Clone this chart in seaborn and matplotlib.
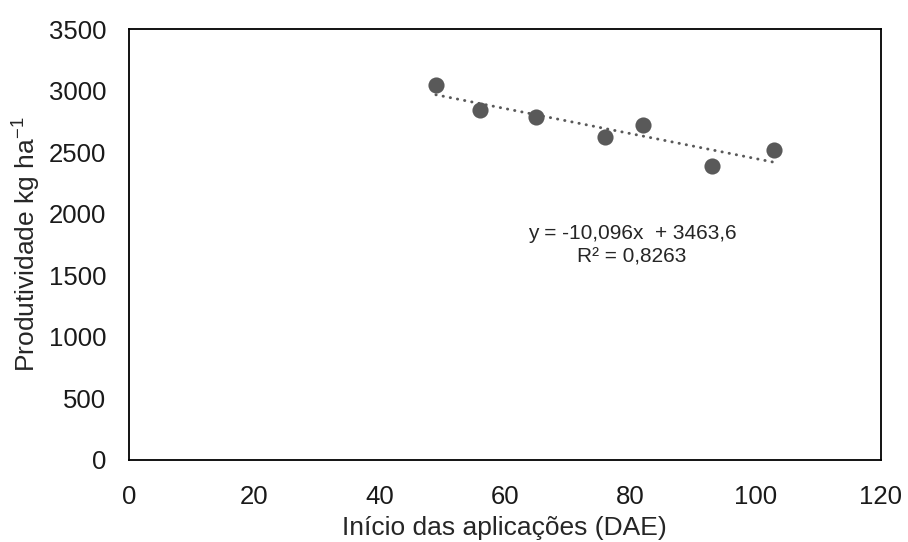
import numpy as np
import pandas as pd
import matplotlib
matplotlib.use("Agg")
import matplotlib.pyplot as plt
import seaborn as sns

# data
dae = [49, 56, 65, 76, 82, 93, 103]
produtividade = [3050, 2845, 2785, 2625, 2720, 2385, 2520]
x_ticks = [0, 20, 40, 60, 80, 100, 120]
y_ticks = [0, 500, 1000, 1500, 2000, 2500, 3000, 3500]
eq_text = "y = -10,096x  + 3463,6\nR² = 0,8263"

df = pd.DataFrame({"DAE": dae, "Prod": produtividade})

sns.set_theme(style="white")
plt.rcParams["font.family"] = ["Liberation Sans", "DejaVu Sans"]
plt.rcParams["mathtext.fontset"] = "custom"
plt.rcParams["mathtext.rm"] = "Liberation Sans"

fig = plt.figure(figsize=(9.08, 5.42), dpi=100)
ax = fig.add_axes([0.142, 0.152, 0.828, 0.794])

# linear trend line
coef = np.polyfit(df["DAE"], df["Prod"], 1)
xs = np.array([df["DAE"].min(), df["DAE"].max()])
ax.plot(xs, np.polyval(coef, xs), color="#595959", linestyle=(0, (0.1, 2.4)),
        linewidth=2.1, dash_capstyle="round", zorder=2)

sns.scatterplot(data=df, x="DAE", y="Prod", ax=ax, color="#595959", s=135,
                edgecolor="#595959", linewidth=0, zorder=3)

ax.text(80.3, 1740, eq_text, ha="center", va="center", fontsize=15, color="#262626",
        linespacing=1.3)

ax.set_xlim(0, 120)
ax.set_ylim(0, 3500)
ax.set_xticks(x_ticks)
ax.set_yticks(y_ticks)
ax.tick_params(axis="both", length=0, labelsize=18.5, colors="#1a1a1a")
ax.tick_params(axis="y", pad=16.5)
ax.tick_params(axis="x", pad=18.5)
ax.set_xlabel("Início das aplicações (DAE)", fontsize=19, color="#262626", labelpad=5)
ax.set_ylabel("Produtividade kg ha$^{\\mathregular{-1}}$", fontsize=19, color="#262626",
              labelpad=5)
for sp in ax.spines.values():
    sp.set_visible(True)
    sp.set_color("black")
    sp.set_linewidth(1.3)

fig.savefig("out.png", dpi=100)
